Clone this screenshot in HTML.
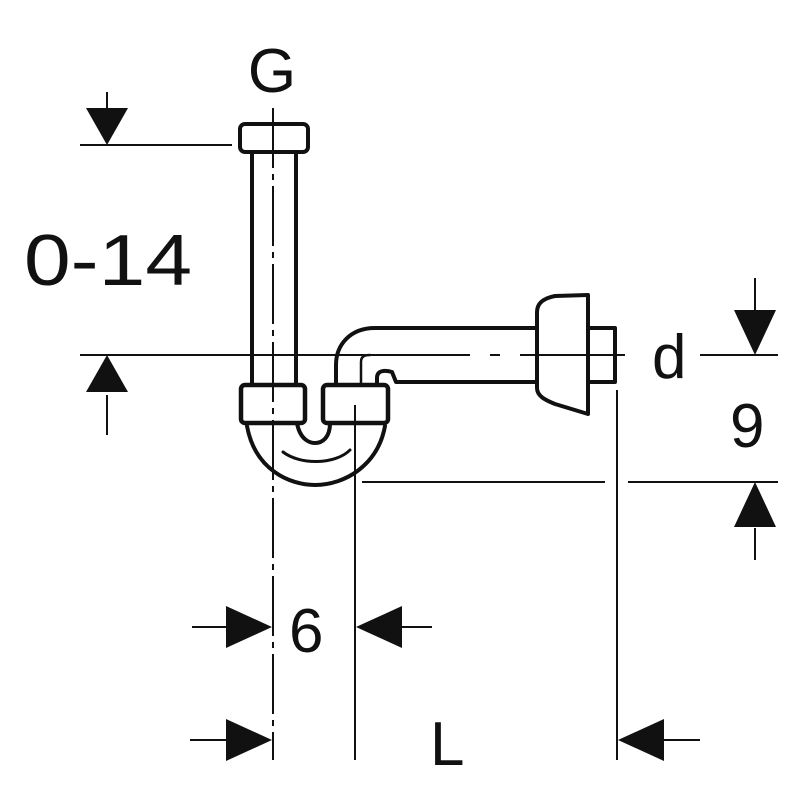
<!DOCTYPE html>
<html><head><style>html,body{margin:0;background:#fff}svg{display:block}</style></head><body>
<svg width="800" height="800" viewBox="0 0 800 800" xmlns="http://www.w3.org/2000/svg">
<g fill="none" stroke="#111" stroke-linecap="round" stroke-linejoin="round">
<path d="M252 152 V385 M296 152 V385" stroke-width="4"/>
<rect x="240" y="124" width="68" height="28" rx="5" stroke-width="4"/>
<rect x="241" y="385" width="64" height="38" rx="4" stroke-width="4.5"/>
<rect x="323" y="385" width="65" height="38" rx="4" stroke-width="4.5"/>
<path d="M247 426 C255 470 290 485 315 485 C345 485 378 465 385 426" stroke-width="4"/>
<path d="M283 452 C300 465 335 465 350 450" stroke-width="3"/>
<path d="M297 423 C300 440 310 443 315 443 C322 443 330 438 330 423" stroke-width="4"/>
<path d="M336 385 V365 C336 345 350 328 375 328 H537" stroke-width="4"/>
<path d="M361 385 V362 C361 356 365 355 370 355" stroke-width="2.5"/>
<path d="M377 385 V378 C377 370 385 370 392 372 L396 382 H537" stroke-width="4"/>
<path d="M537 312 C537 302 545 298 555 296 L588 295 V414 L555 404 C545 400 537 396 537 388 Z" stroke-width="4"/>
<path d="M588 328 H615 V382 H588" stroke-width="4"/>
</g>
<g stroke="#111" stroke-width="2">
<path d="M273 108 V760" stroke-dasharray="60 6 6 6"/>
<path d="M355 405 V760"/>
<path d="M617 390 V760"/>
<path d="M80 355 H470 M490 355 H500 M520 355 H625" />
<path d="M80 145 H232"/>
<path d="M700 355 H778"/>
<path d="M362 482 H605 M628 482 H778"/>
<path d="M107 92 V120 M107 395 V435 M755 278 V310 M755 528 V560"/>
<path d="M192 627 H230 M432 627 H400 M190 740 H230 M700 740 H660"/>
</g>
<g fill="#111">
<polygon points="86,108 128,108 107,145"/>
<polygon points="86,392 128,392 107,355"/>
<polygon points="734,310 776,310 755,355"/>
<polygon points="734,527 776,527 755,482"/>
<polygon points="226,606 226,648 272,627"/>
<polygon points="402,606 402,648 356,627"/>
<polygon points="226,719 226,761 272,740"/>
<polygon points="664,719 664,761 618,740"/>
</g>
<g font-family="Liberation Sans, sans-serif" fill="#111">
<text x="272" y="92" font-size="62" text-anchor="middle">G</text>
<text x="24" y="285" font-size="72" textLength="168" lengthAdjust="spacingAndGlyphs">0-14</text>
<text x="652" y="378" font-size="62">d</text>
<text x="730" y="447" font-size="62">9</text>
<text x="289" y="652" font-size="62">6</text>
<text x="430" y="765" font-size="62">L</text>
</g>
</svg>
</body></html>
